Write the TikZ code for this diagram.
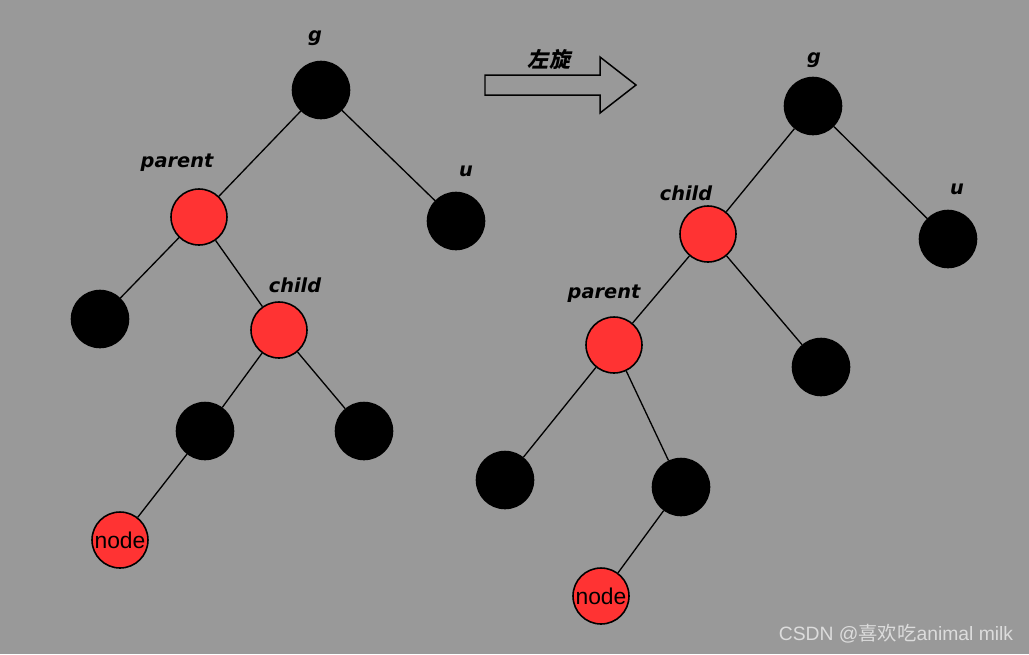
\documentclass[tikz,border=0pt]{standalone}
\usepackage{fontspec}
\setmainfont{Liberation Sans}
\newfontfamily\labelfont{DejaVu Sans}
\newfontfamily\cjkslant[FakeSlant=0.2]{Noto Sans CJK SC}
\newfontfamily\cjkplain{Noto Sans CJK SC}
\usepackage{tikz}
\usetikzlibrary{positioning,calc}
\definecolor{bggray}{HTML}{999999}
\definecolor{rbred}{HTML}{FF3333}
\definecolor{markgray}{HTML}{DCDCDC}

\begin{document}
\begin{tikzpicture}[
  x=0.02cm, y=-0.02cm,
  blacknode/.style={
    circle, draw=black, fill=black, line width=0.9pt,
    minimum size=1.14cm, inner sep=0pt
  },
  rednode/.style={
    circle, draw=black, fill=rbred, line width=0.9pt,
    minimum size=1.12cm, inner sep=0pt,
    font=\fontsize{13}{15}\selectfont
  },
  tag/.style={
    font=\labelfont\bfseries\itshape\fontsize{11}{13}\selectfont, text=black
  },
  edge/.style={draw=black, line width=0.75pt}
]

% background
\fill[bggray] (0,0) rectangle (1029,654);

% left tree (before)
\node[blacknode] (g1) at (321, 90) {};
\node[rednode] (p1) at (199, 217) {};
\node[blacknode] (u1) at (456, 221) {};
\node[blacknode] (pl1) at (100, 319) {};
\node[rednode] (c1) at (279, 330) {};
\node[blacknode] (cl1) at (205, 431) {};
\node[blacknode] (cr1) at (364, 431) {};
\node[rednode] (n1) at (120, 540) {node};

\draw[edge] (g1) -- (p1);
\draw[edge] (g1) -- (u1);
\draw[edge] (p1) -- (pl1);
\draw[edge] (p1) -- (c1);
\draw[edge] (c1) -- (cl1);
\draw[edge] (c1) -- (cr1);
\draw[edge] (cl1) -- (n1);

\node[tag] (tg1) at (315, 38) {g};
\node[tag] (tp1) at (177, 163) {parent};
\node[tag] (tu1) at (466, 171) {u};
\node[tag] (tc1) at (295, 285) {child};

% rotate arrow
\draw[black, line width=0.85pt]
  (485, 75) -- (600, 75) -- (600, 57) -- (636, 85) -- (600, 113)
  -- (600, 95) -- (485, 95) -- cycle;
\node[font=\cjkslant\bfseries\fontsize{12}{14}\selectfont] (rot) at (549, 59) {左旋};

% right tree (after)
\node[blacknode] (g2) at (813, 106) {};
\node[rednode] (c2) at (708, 234) {};
\node[blacknode] (u2) at (948, 239) {};
\node[rednode] (p2) at (614, 345) {};
\node[blacknode] (cr2) at (821, 367) {};
\node[blacknode] (pl2) at (505, 480) {};
\node[blacknode] (pr2) at (681, 487) {};
\node[rednode] (n2) at (601, 596) {node};

\draw[edge] (g2) -- (c2);
\draw[edge] (g2) -- (u2);
\draw[edge] (c2) -- (p2);
\draw[edge] (c2) -- (cr2);
\draw[edge] (p2) -- (pl2);
\draw[edge] (p2) -- (pr2);
\draw[edge] (pr2) -- (n2);

\node[tag] (tg2) at (814, 60) {g};
\node[tag] (tc2) at (686, 193) {child};
\node[tag] (tu2) at (957, 189) {u};
\node[tag] (tp2) at (604, 294) {parent};

% watermark
\node[text=markgray, font=\fontsize{11}{13}\selectfont] (mark) at (896, 634)
  {CSDN @{\cjkplain 喜欢吃}animal milk};

\end{tikzpicture}
\end{document}
